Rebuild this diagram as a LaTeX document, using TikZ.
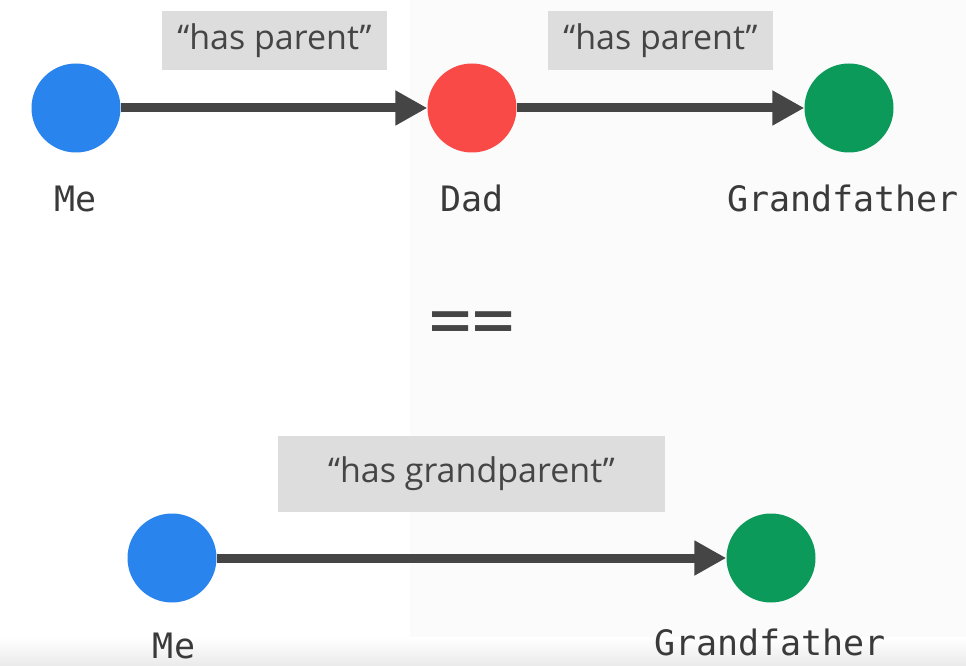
\documentclass[tikz,border=0pt]{standalone}
\usepackage{fontspec}
\setmainfont{Open Sans}
\setmonofont{DejaVu Sans Mono}
\usetikzlibrary{arrows.meta}
\definecolor{meblue}{HTML}{2A84EE}
\definecolor{dadred}{HTML}{F94A48}
\definecolor{gfgreen}{HTML}{0B9A5A}
\definecolor{edge}{HTML}{454545}
\definecolor{tagfill}{HTML}{DDDDDD}
\definecolor{tagink}{HTML}{454545}
\definecolor{nameink}{HTML}{3A3A3A}
\definecolor{paper}{HTML}{FBFBFC}
\definecolor{strip}{HTML}{EBEBEB}

\begin{document}
\begin{tikzpicture}[x=1pt,y=1pt,
    person/.style={circle,minimum size=89pt,inner sep=0pt,fill=#1},
    who/.style={anchor=base,text=nameink,font=\ttfamily\fontsize{35}{40}\selectfont},
    tag/.style={fill=tagfill,inner sep=0pt,text=tagink,font=\fontsize{34}{40}\selectfont},
    link/.style={edge,line width=9pt,-{Triangle[length=32pt,width=33pt]}}]
  \fill[white] (0,0) rectangle (966,665);
  \fill[paper] (410,0) rectangle (966,665);
  \shade[top color=white,bottom color=strip] (0,0) rectangle (966,28);
  \useasboundingbox (0,0) rectangle (966,665);
  % first chain: two single steps
  \foreach \id/\x/\col in {me/76/meblue, dad/472/dadred, gf/849/gfgreen}
    \node[person=\col] (\id) at (\x,557) {};
  \foreach \id/\x/\name in {me/76/Me, dad/472/Dad, gf/843/Grandfather}
    \node[who] (\id-name) at (\x,453) {\name};
  \node[tag,minimum width=225pt,minimum height=59pt] (tag1) at (274.5,624.5) {“has parent”};
  \node[tag,minimum width=225pt,minimum height=59pt] (tag2) at (660.5,624.5) {“has parent”};
  \draw[link] (me) -- (dad);
  \draw[link] (dad) -- (gf);
  % equals sign
  \node[text=edge,font=\ttfamily\fontsize{70}{70}\selectfont] (eq) at (472,337) {==};
  % second chain: one combined step
  \node[person=meblue] (me2) at (172,107) {};
  \node[person=gfgreen] (gf2) at (771,107) {};
  \node[who] (me2-name) at (174,7) {Me};
  \node[who] (gf2-name) at (770,10) {Grandfather};
  \node[tag,minimum width=387pt,minimum height=76pt] (tag3) at (471.5,191) {“has grandparent”};
  \draw[link] (me2) -- (gf2);
\end{tikzpicture}
\end{document}
